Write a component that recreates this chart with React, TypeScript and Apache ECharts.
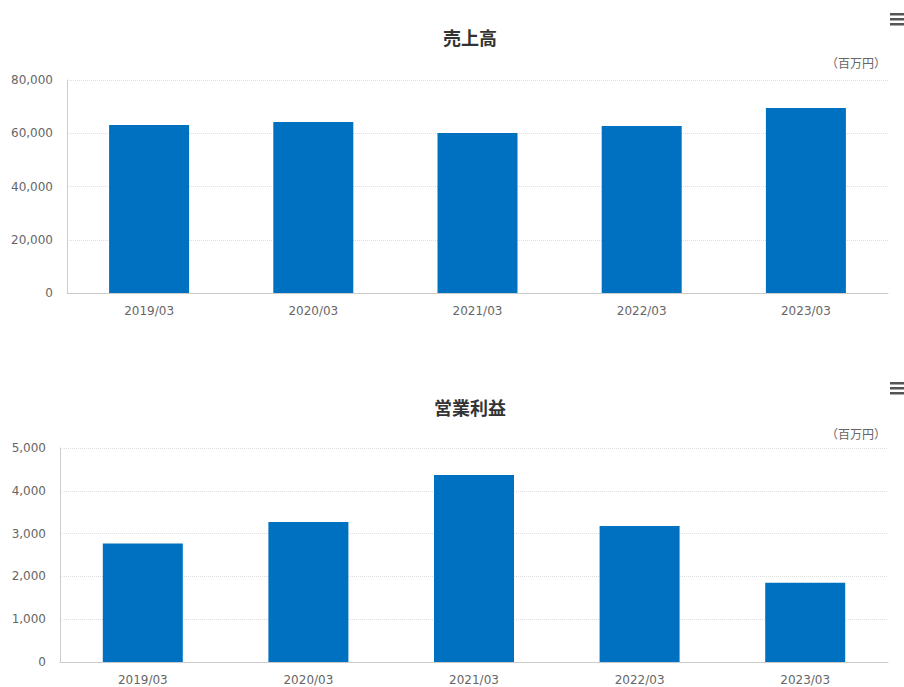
import React, { useEffect, useRef } from "react";
import * as echarts from "echarts";

const categories = ["2019/03", "2020/03", "2021/03", "2022/03", "2023/03"];
const salesValues = [63100, 64200, 60100, 62700, 69500];
const profitValues = [2770, 3270, 4370, 3180, 1850];
const salesTitle = "売上高";
const profitTitle = "営業利益";
const unitLabel = "（百万円）";

const FONT = "'DejaVu Sans', Verdana, sans-serif";
const CJK = "'Noto Sans CJK JP', sans-serif";
const BAR = "#0070C0";

function menuIcon(y0: number) {
  return [0, 5, 10].map((d) => ({
    type: "rect",
    shape: { x: 890, y: y0 + d, width: 14, height: 2.5 },
    style: { fill: "#555" },
  }));
}

export default function App() {
  const ref = useRef<HTMLDivElement>(null);
  useEffect(() => {
    if (!ref.current) return;
    const chart = echarts.init(ref.current, null, { renderer: "svg" });
    const yAxisCommon = {
      type: "value",
      axisLine: { show: true, lineStyle: { color: "#ccc" } },
      axisTick: { show: false },
      splitLine: { lineStyle: { type: "dotted", color: "#ddd" } },
      axisLabel: {
        color: "#666",
        fontSize: 12,
        fontFamily: FONT,
        margin: 14,
        formatter: (v: number) => v.toLocaleString("en-US"),
      },
    };
    const xAxisCommon = {
      type: "category",
      data: categories,
      axisLine: { show: true, lineStyle: { color: "#ccc" } },
      axisTick: { show: false },
      axisLabel: { color: "#666", fontSize: 12, fontFamily: FONT, margin: 12 },
    };
    chart.setOption({
      animation: false,
      backgroundColor: "#fff",
      title: [
        {
          text: salesTitle,
          left: 465,
          top: 23,
          textAlign: "center",
          textStyle: { fontSize: 18, fontWeight: "bold", color: "#333", fontFamily: CJK },
        },
        {
          text: profitTitle,
          left: 465,
          top: 393,
          textAlign: "center",
          textStyle: { fontSize: 18, fontWeight: "bold", color: "#333", fontFamily: CJK },
        },
      ],
      grid: [
        { left: 67, right: 16, top: 80, height: 213 },
        { left: 60, right: 16, top: 448, height: 214 },
      ],
      xAxis: [
        { ...xAxisCommon, gridIndex: 0 },
        { ...xAxisCommon, gridIndex: 1 },
      ],
      yAxis: [
        { ...yAxisCommon, gridIndex: 0, min: 0, max: 80000, interval: 20000 },
        { ...yAxisCommon, gridIndex: 1, min: 0, max: 5000, interval: 1000 },
      ],
      series: [
        {
          type: "bar",
          xAxisIndex: 0,
          yAxisIndex: 0,
          data: salesValues,
          barWidth: 80,
          itemStyle: { color: BAR },
        },
        {
          type: "bar",
          xAxisIndex: 1,
          yAxisIndex: 1,
          data: profitValues,
          barWidth: 80,
          itemStyle: { color: BAR },
        },
      ],
      graphic: [
        {
          type: "text",
          right: 18,
          top: 56,
          style: { text: unitLabel, fontSize: 12, fill: "#666", fontFamily: CJK },
        },
        {
          type: "text",
          right: 18,
          top: 427,
          style: { text: unitLabel, fontSize: 12, fill: "#666", fontFamily: CJK },
        },
        ...menuIcon(13),
        ...menuIcon(382),
      ],
    });
    return () => chart.dispose();
  }, []);
  return (
    <div
      ref={ref}
      style={{ position: "fixed", left: 0, top: 0, width: 904, height: 687 }}
    />
  );
}
